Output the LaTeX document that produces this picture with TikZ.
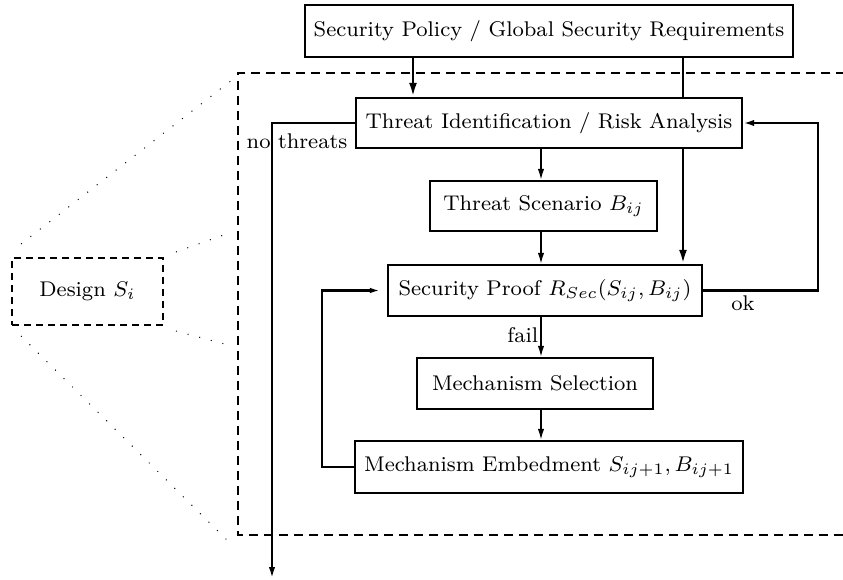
\documentclass[tikz,border=0pt]{standalone}
\usetikzlibrary{arrows.meta,calc}
\newcommand\tx[1]{\scalebox{2.66}{\fontsize{8}{10}\selectfont #1}}
\begin{document}
\begin{tikzpicture}[x=1pt,y=-1pt,
  box/.style={draw,line width=2.4pt,fill=white,inner sep=0pt,anchor=center},
  thin/.style={line width=1.5pt,-{Latex[length=11pt,width=6.5pt]}},
  thick/.style={line width=2.6pt,-{Latex[length=14pt,width=8pt]}},
  dotl/.style={line width=1pt,dash pattern=on 1pt off 11pt},
  lbl/.style={inner sep=0pt}]
\useasboundingbox (0,0) rectangle (843,580);
% dashed frame
\draw[line width=2.6pt,dash pattern=on 9pt off 6pt] (845,73) -- (238,73) -- (238,535) -- (845,535);
% nodes
\node[box,minimum width=488pt,minimum height=52pt] (top) at (549,31) {\tx{Security Policy / Global Security Requirements}};
\node[box,minimum width=386pt,minimum height=50pt] (ti) at (549,123) {\tx{Threat Identification / Risk Analysis}};
\node[box,minimum width=227pt,minimum height=50pt] (ts) at (543.5,206) {\tx{Threat Scenario $B_{ij}$}};
\node[box,minimum width=314pt,minimum height=51pt] (sp) at (545,290.5) {\tx{Security Proof $R_{Sec}(S_{ij},B_{ij})$}};
\node[box,minimum width=236pt,minimum height=51pt] (ms) at (535,383.5) {\tx{Mechanism Selection}};
\node[box,minimum width=388pt,minimum height=52pt] (me) at (549,467) {\tx{Mechanism Embedment $S_{ij+1},B_{ij+1}$}};
\node[draw,line width=2pt,dash pattern=on 7pt off 5pt,minimum width=151pt,minimum height=67pt,inner sep=0pt] (des) at (87.5,291.5) {\tx{Design $S_i$}};
% helper coordinates
\coordinate (cL) at (413,0);
\coordinate (cR) at (683,0);
\coordinate (cM) at (541,0);
\coordinate (okx) at (818,0);
\coordinate (fbx) at (322,0);
\coordinate (ntx) at (272,0);
\coordinate (ntend) at (272,578);
% connectors
\draw[thick] (top.south -| cL) -- (ti.north -| cL);
\draw[line width=2.6pt] (top.south -| cR) -- (ti.north -| cR);
\draw[thick] (ti.south -| cR) -- (sp.north -| cR);
\draw[thin] (ti.south -| cM) -- (ts.north -| cM);
\draw[thin] (ts.south -| cM) -- (sp.north -| cM);
\draw[thin] (sp.south -| cM) -- node[lbl,left=2pt,pos=0.45] {\tx{fail}} (ms.north -| cM);
\draw[thin] (ms.south -| cM) -- (me.north -| cM);
\draw[line width=2.6pt,-{Latex[length=11pt,width=6.5pt]}] (sp.east) -- (sp.east -| okx) -- (ti.east -| okx) -- (ti.east);
\node[lbl] (ok) at (743,303) {\tx{ok}};
\draw[line width=2.6pt,-{Latex[length=11pt,width=5.5pt]}] (me.west) -- (me.west -| fbx) -- (sp.west -| fbx) -- ([xshift=-6pt]sp.west);
\draw[line width=2pt,-{Latex[length=11pt,width=6.5pt]}] (ti.west) -- (ti.west -| ntx) -- (ntend);
\node[lbl] (nt) at (297,141) {\tx{no threats}};
% dotted zoom lines
\draw[dotl] (des.north west) ++(10,-13) coordinate (d1) (d1) -- (232,80);
\draw[dotl] (des.north east) ++(12,-5) coordinate (d2) (d2) -- (232,232);
\draw[dotl] (des.south east) ++(12,5) coordinate (d3) (d3) -- (232,346);
\draw[dotl] (des.south west) ++(10,10) coordinate (d4) (d4) -- (232,545);
\end{tikzpicture}
\end{document}
